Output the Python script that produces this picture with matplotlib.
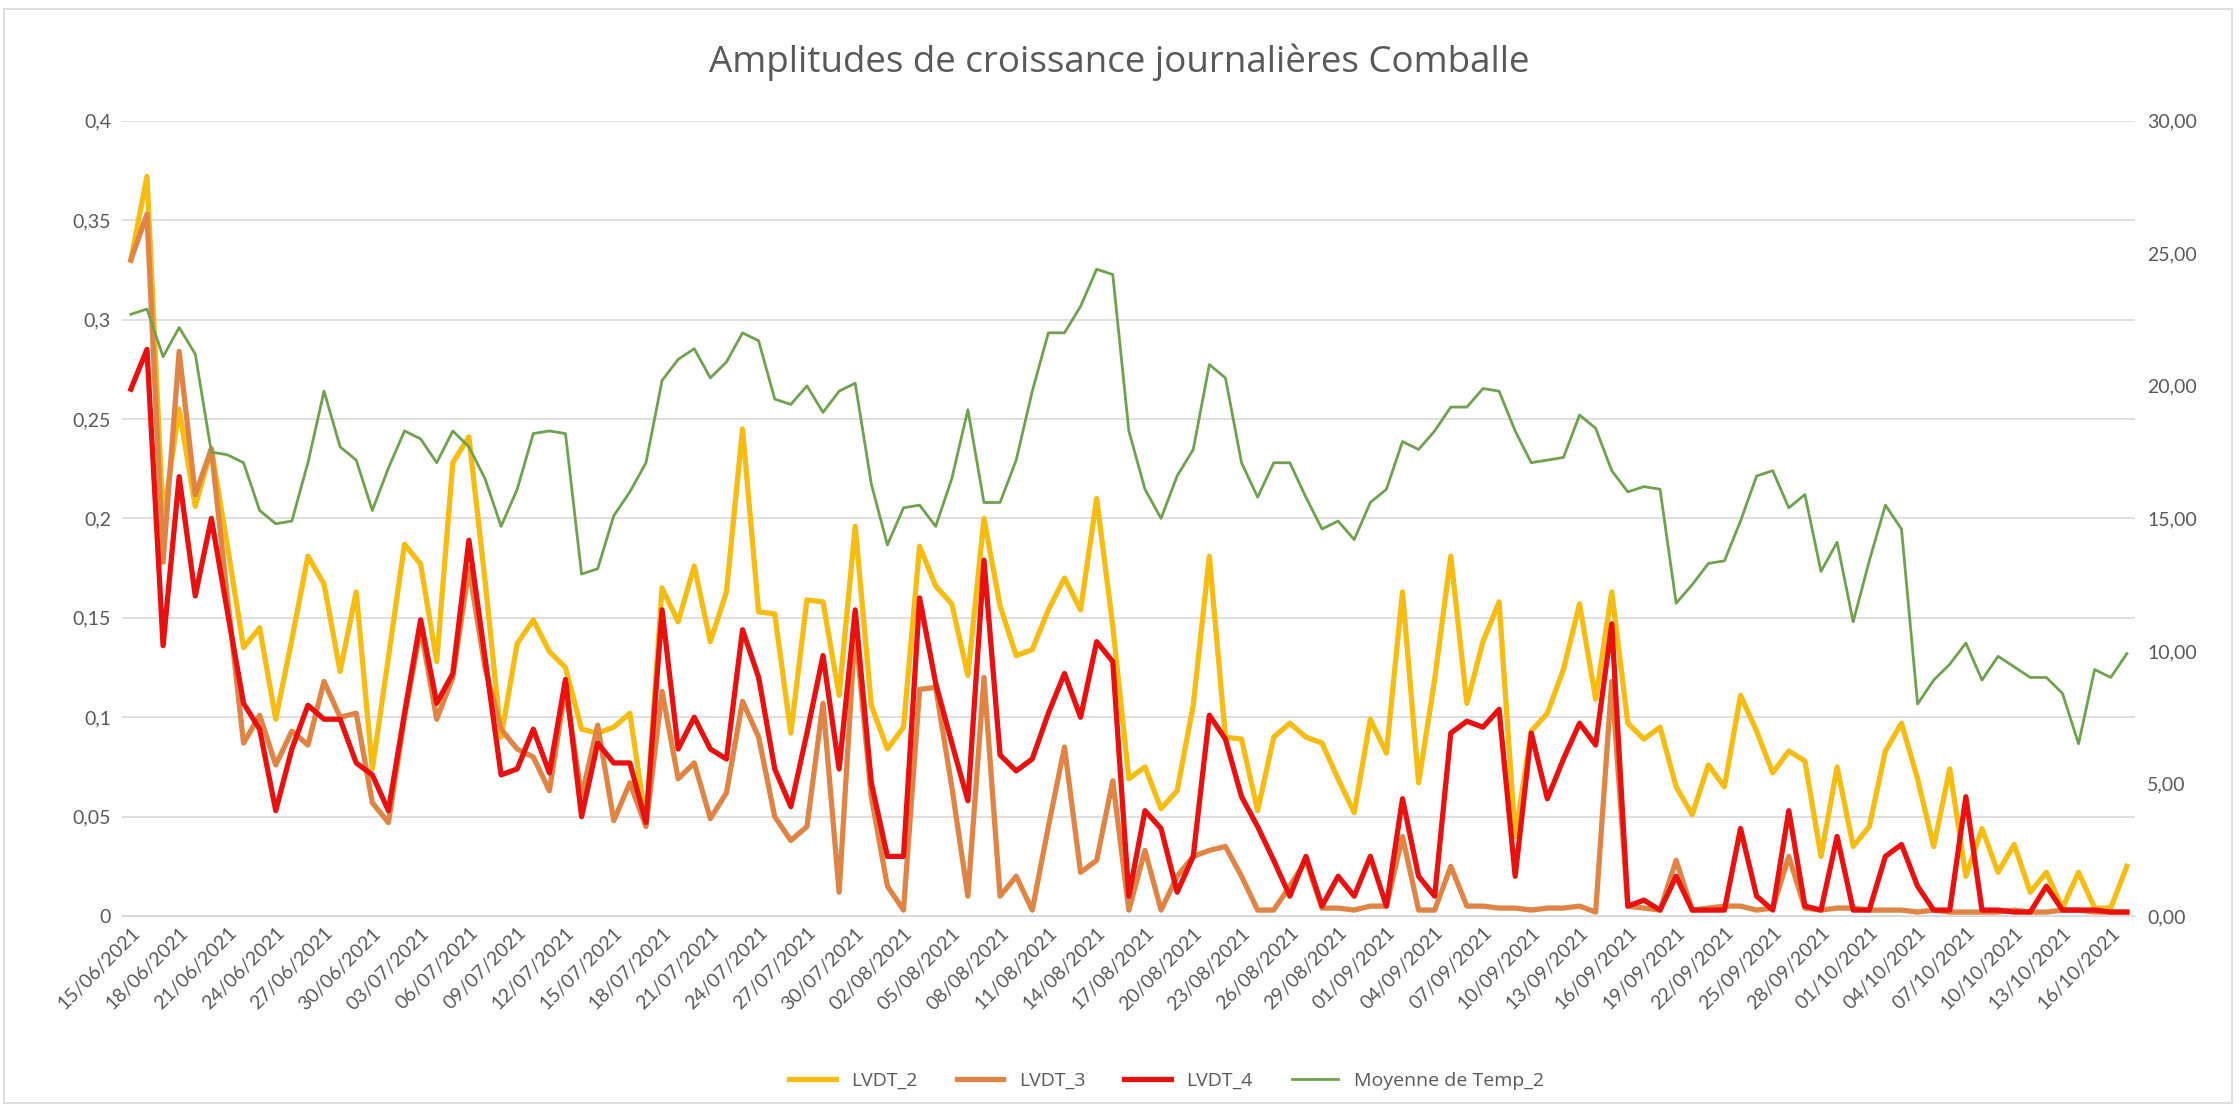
import matplotlib
matplotlib.use("Agg")
import matplotlib.pyplot as plt
from matplotlib.patches import Rectangle
from matplotlib.ticker import FuncFormatter, MultipleLocator
import numpy as np
import pandas as pd

plt.rcParams['font.family'] = ['Lato', 'DejaVu Sans']

# jours du 15/06/2021 au 17/10/2021
dates = pd.date_range("2021-06-15", "2021-10-17", freq="D")

lvdt_2 = [0.330, 0.372, 0.200, 0.255, 0.206, 0.235, 0.186, 0.135, 0.145, 0.099,
          0.139, 0.181, 0.167, 0.123, 0.163, 0.074, 0.130, 0.187, 0.177, 0.128,
          0.228, 0.241, 0.169, 0.090, 0.137, 0.149, 0.133, 0.125, 0.094, 0.092,
          0.095, 0.102, 0.047, 0.165, 0.148, 0.176, 0.138, 0.163, 0.245, 0.153,
          0.152, 0.092, 0.159, 0.158, 0.111, 0.196, 0.106, 0.084, 0.095, 0.186,
          0.166, 0.157, 0.121, 0.200, 0.156, 0.131, 0.134, 0.154, 0.170, 0.154,
          0.210, 0.146, 0.069, 0.075, 0.054, 0.063, 0.106, 0.181, 0.090, 0.089,
          0.053, 0.090, 0.097, 0.090, 0.087, 0.069, 0.052, 0.099, 0.082, 0.163,
          0.067, 0.119, 0.181, 0.107, 0.138, 0.158, 0.040, 0.093, 0.102, 0.124,
          0.157, 0.109, 0.163, 0.097, 0.089, 0.095, 0.065, 0.051, 0.076, 0.065,
          0.111, 0.093, 0.072, 0.083, 0.078, 0.030, 0.075, 0.035, 0.045, 0.083,
          0.097, 0.069, 0.035, 0.074, 0.020, 0.044, 0.022, 0.036, 0.012, 0.022,
          0.004, 0.022, 0.004, 0.004, 0.025]

lvdt_3 = [0.330, 0.353, 0.178, 0.284, 0.212, 0.235, 0.160, 0.087, 0.101, 0.076,
          0.093, 0.086, 0.118, 0.100, 0.102, 0.057, 0.047, 0.100, 0.145, 0.099,
          0.120, 0.175, 0.125, 0.094, 0.084, 0.080, 0.063, 0.115, 0.060, 0.096,
          0.048, 0.067, 0.045, 0.113, 0.069, 0.077, 0.049, 0.062, 0.108, 0.090,
          0.050, 0.038, 0.045, 0.107, 0.012, 0.145, 0.060, 0.015, 0.003, 0.114,
          0.115, 0.065, 0.010, 0.120, 0.010, 0.020, 0.003, 0.045, 0.085, 0.022,
          0.028, 0.068, 0.003, 0.033, 0.003, 0.020, 0.030, 0.033, 0.035, 0.020,
          0.003, 0.003, 0.015, 0.028, 0.004, 0.004, 0.003, 0.005, 0.005, 0.040,
          0.003, 0.003, 0.025, 0.005, 0.005, 0.004, 0.004, 0.003, 0.004, 0.004,
          0.005, 0.002, 0.118, 0.005, 0.004, 0.003, 0.028, 0.003, 0.004, 0.005,
          0.005, 0.003, 0.004, 0.030, 0.004, 0.003, 0.004, 0.004, 0.003, 0.003,
          0.003, 0.002, 0.003, 0.002, 0.002, 0.002, 0.002, 0.003, 0.002, 0.002,
          0.003, 0.003, 0.002, 0.002, 0.002]

lvdt_4 = [0.265, 0.285, 0.136, 0.221, 0.161, 0.200, 0.153, 0.107, 0.094, 0.053,
          0.084, 0.106, 0.099, 0.099, 0.077, 0.071, 0.053, 0.102, 0.149, 0.107,
          0.122, 0.189, 0.130, 0.071, 0.074, 0.094, 0.072, 0.119, 0.050, 0.087,
          0.077, 0.077, 0.047, 0.154, 0.084, 0.100, 0.084, 0.079, 0.144, 0.120,
          0.074, 0.055, 0.092, 0.131, 0.074, 0.154, 0.067, 0.030, 0.030, 0.160,
          0.117, 0.087, 0.058, 0.179, 0.081, 0.073, 0.079, 0.102, 0.122, 0.100,
          0.138, 0.128, 0.010, 0.053, 0.044, 0.012, 0.030, 0.101, 0.089, 0.060,
          0.045, 0.028, 0.010, 0.030, 0.005, 0.020, 0.010, 0.030, 0.005, 0.059,
          0.020, 0.010, 0.092, 0.098, 0.095, 0.104, 0.020, 0.092, 0.059, 0.079,
          0.097, 0.086, 0.147, 0.005, 0.008, 0.003, 0.020, 0.003, 0.003, 0.003,
          0.044, 0.010, 0.003, 0.053, 0.005, 0.003, 0.040, 0.003, 0.003, 0.030,
          0.036, 0.015, 0.003, 0.003, 0.060, 0.003, 0.003, 0.002, 0.002, 0.015,
          0.003, 0.003, 0.003, 0.002, 0.002]

temp_2 = [22.7, 22.9, 21.1, 22.2, 21.2, 17.5, 17.4, 17.1, 15.3, 14.8,
          14.9, 17.1, 19.8, 17.7, 17.2, 15.3, 16.9, 18.3, 18.0, 17.1,
          18.3, 17.7, 16.5, 14.7, 16.1, 18.2, 18.3, 18.2, 12.9, 13.1,
          15.1, 16.0, 17.1, 20.2, 21.0, 21.4, 20.3, 20.9, 22.0, 21.7,
          19.5, 19.3, 20.0, 19.0, 19.8, 20.1, 16.3, 14.0, 15.4, 15.5,
          14.7, 16.5, 19.1, 15.6, 15.6, 17.2, 19.8, 22.0, 22.0, 23.0,
          24.4, 24.2, 18.3, 16.1, 15.0, 16.6, 17.6, 20.8, 20.3, 17.1,
          15.8, 17.1, 17.1, 15.8, 14.6, 14.9, 14.2, 15.6, 16.1, 17.9,
          17.6, 18.3, 19.2, 19.2, 19.9, 19.8, 18.3, 17.1, 17.2, 17.3,
          18.9, 18.4, 16.8, 16.0, 16.2, 16.1, 11.8, 12.5, 13.3, 13.4,
          14.9, 16.6, 16.8, 15.4, 15.9, 13.0, 14.1, 11.1, 13.4, 15.5,
          14.6, 8.0, 8.9, 9.5, 10.3, 8.9, 9.8, 9.4, 9.0, 9.0,
          8.4, 6.5, 9.3, 9.0, 9.9]

x = np.arange(len(dates))
gris = '#595959'

fig = plt.figure(figsize=(22.39, 11.07), dpi=100)
ax = fig.add_axes([0.0545, 0.1725, 0.899, 0.7184])
ax2 = ax.twinx()

lw = 3.8
ax.plot(x, lvdt_2, color='#F7BC12', lw=lw, label='LVDT_2', solid_joinstyle='round')
ax.plot(x, lvdt_3, color='#DF8444', lw=lw, label='LVDT_3', solid_joinstyle='round')
ax.plot(x, lvdt_4, color='#E8110F', lw=lw, label='LVDT_4', solid_joinstyle='round')
ax2.plot(x, temp_2, color='#70A14F', lw=2.0, label='Moyenne de Temp_2')

ax.set_xlim(-0.55, len(x) - 0.5)
ax.set_ylim(0, 0.4)
ax2.set_ylim(0, 30)
ax.yaxis.set_major_locator(MultipleLocator(0.05))
ax2.yaxis.set_major_locator(MultipleLocator(5))
ax.yaxis.set_major_formatter(FuncFormatter(lambda v, p: ('%g' % round(v, 2)).replace('.', ',')))
ax2.yaxis.set_major_formatter(FuncFormatter(lambda v, p: ('%.2f' % v).replace('.', ',')))

ax.grid(axis='y', color='#d9d9d9', lw=1.2)
ax.set_axisbelow(True)
for a in (ax, ax2):
    for s in a.spines.values():
        s.set_visible(False)
    a.tick_params(length=0, labelsize=14, labelcolor=gris)
ax.spines['bottom'].set_visible(True)
ax.spines['bottom'].set_color('#d9d9d9')
ax.tick_params(axis='y', pad=8)
ax2.tick_params(axis='y', pad=9)

ticks = x[::3]
ax.set_xticks(ticks)
ax.set_xticklabels([d.strftime('%d/%m/%Y') for d in dates[::3]], rotation=45,
                   ha='right', va='top', rotation_mode='anchor')
ax.tick_params(axis='x', pad=6)

fig.text(0.5, 0.944, 'Amplitudes de croissance journalières Comballe',
         ha='center', va='center', fontsize=26.5, color=gris, family='Open Sans')

h1, l1 = ax.get_legend_handles_labels()
h2, l2 = ax2.get_legend_handles_labels()
fig.legend(h1 + h2, l1 + l2, loc='lower center', bbox_to_anchor=(0.521, 0.0),
           ncol=4, frameon=False, labelcolor=gris,
           prop={'family': 'Open Sans', 'size': 14},
           handlelength=2.4, columnspacing=2.0)

fig.patches.append(Rectangle((0.002, 0.004), 0.995, 0.988, transform=fig.transFigure,
                             fill=False, edgecolor='#d9d9d9', lw=1.2))

fig.savefig('out.png', dpi=100)
